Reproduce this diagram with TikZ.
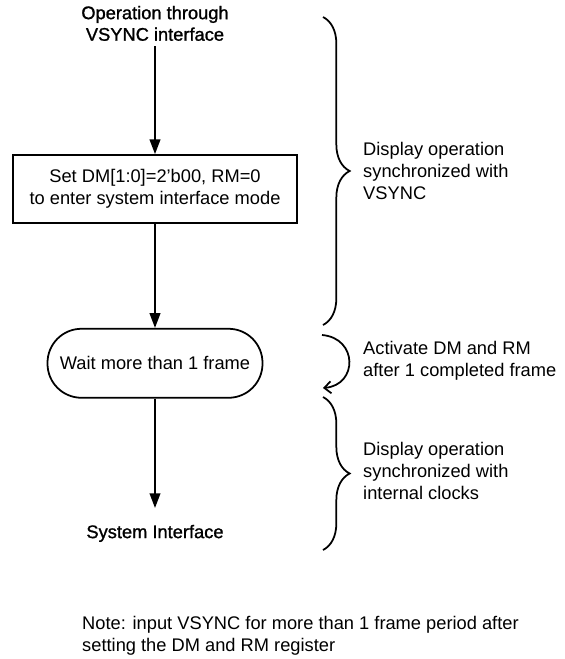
\documentclass[tikz,border=0pt]{standalone}
\usepackage{fontspec}
\setmainfont{Liberation Sans}
\newfontfamily\heavyfont{Liberation Sans}[FakeBold=1.2]
\usetikzlibrary{positioning,arrows.meta,decorations.pathreplacing}

\begin{document}
\begin{tikzpicture}[x=0.03cm, y=-0.03cm,
        every node/.style={font=\fontsize{15.6pt}{18.4pt}\selectfont},
        stepbox/.style={rectangle, draw, line width=1.5pt, minimum width=8.52cm, minimum height=2.04cm, align=center},
        waitbox/.style={rectangle, draw, line width=1.5pt, rounded corners=1.02cm, minimum width=6.45cm, minimum height=2.07cm, align=center},
        term/.style={align=center, inner sep=0pt, font=\fontsize{15.6pt}{18.4pt}\selectfont\heavyfont},
        side/.style={anchor=west, align=left, inner sep=0pt},
        arrow/.style={-{Triangle[length=0.44cm, width=0.32cm]}, line width=1.5pt},
        brace/.style={decorate, decoration={brace, amplitude=0.8cm}, line width=1.5pt}
    ]
        \useasboundingbox (0,0) rectangle (565,659);
        % Flow
        \node[stepbox] (set) at (155,189) {Set DM[1:0]=2'b00, RM=0\\to enter system interface mode};
        \node[term, above=3.39cm of set] (start) {Operation through\\VSYNC interface};
        \node[waitbox, below=3.12cm of set] (wait) {Wait more than 1 frame};
        \node[term, below=3.78cm of wait] (sys) {System Interface};
        % Arrows
        \draw[arrow, shorten <=0.15cm] (start) -- (set);
        \draw[arrow] (set) -- (wait);
        \draw[arrow, shorten >=0.5cm] (wait) -- (sys);
        % Braces
        \coordinate (vtop) at (323,17);
        \coordinate (vbot) at (323,325);
        \coordinate (itop) at (323,397);
        \coordinate (ibot) at (323,550);
        \draw[brace] (vtop) -- (vbot);
        \draw[brace] (itop) -- (ibot);
        \coordinate (actA) at (322,335);
        \coordinate (actB) at (323,388);
        \draw[line width=1.5pt, -{Straight Barb[length=0.2cm, width=0.36cm]}] (actA) .. controls (358,338) and (358,385) .. (actB);
        % Labels
        \node[side] (vsynctxt) at (363,171) {Display operation\\synchronized with\\VSYNC};
        \node[side] (acttxt) at (363,361) {Activate DM and RM\\after 1 completed frame};
        \node[side] (clktxt) at (363,471) {Display operation\\synchronized with\\internal clocks};
        \node[side] (note) at (82,636) {Note: input VSYNC for more than 1 frame period after\\setting the DM and RM register};
\end{tikzpicture}
\end{document}
